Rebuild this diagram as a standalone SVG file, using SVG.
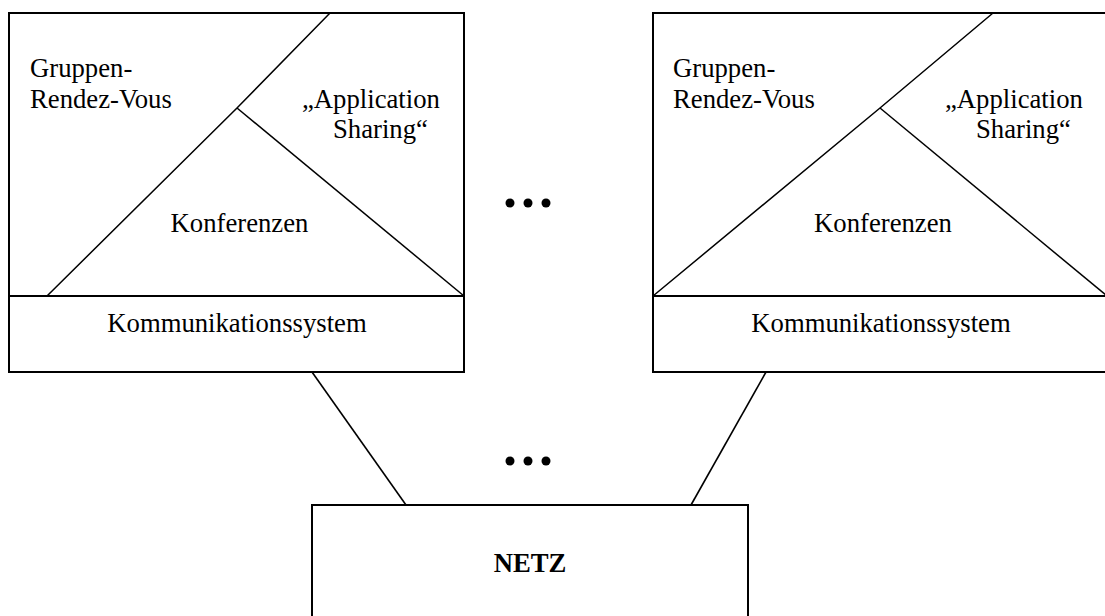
<svg xmlns="http://www.w3.org/2000/svg" width="1105" height="616" viewBox="0 0 1105 616">
  <style>
    .frame { fill: #fff; stroke: #000; stroke-width: 2; }
    .split { fill: none; stroke: #000; stroke-width: 2; }
    .inner { fill: none; stroke: #000; stroke-width: 1.5; }
    .link { fill: none; stroke: #000; stroke-width: 1.6; }
    .lbl { font-family: "Liberation Serif", "Times New Roman", serif; font-size: 26.7px; fill: #000; }
    .mid { text-anchor: middle; }
    .bold { font-weight: bold; }
    .dot { fill: #000; }
  </style>
  <rect width="1105" height="616" fill="#fff"/>

  <!-- connectors from each station to the network -->
  <g id="connectors">
    <line class="link" x1="312" y1="372" x2="406" y2="505"/>
    <line class="link" x1="766" y1="372" x2="691" y2="505"/>
  </g>

  <!-- station 1 -->
  <g id="station-left">
    <rect class="frame" x="9" y="13" width="455" height="359"/>
    <line class="split" x1="9" y1="296" x2="464" y2="296"/>
    <polyline class="inner" points="47,296 237,108 330,13"/>
    <line class="inner" x1="237" y1="108" x2="464" y2="296"/>
    <text class="lbl" x="30" y="77">Gruppen-</text>
    <text class="lbl" x="30" y="108">Rendez-Vous</text>
    <text class="lbl" x="302" y="108">„Application</text>
    <text class="lbl" x="333" y="138">Sharing“</text>
    <text class="lbl mid" x="239.5" y="232">Konferenzen</text>
    <text class="lbl mid" x="237" y="332">Kommunikationssystem</text>
  </g>

  <!-- further stations omitted -->
  <g id="ellipsis-top">
    <circle class="dot" cx="510" cy="203" r="4.5"/>
    <circle class="dot" cx="528" cy="203" r="4.5"/>
    <circle class="dot" cx="546" cy="203" r="4.5"/>
  </g>

  <!-- station n -->
  <g id="station-right">
    <rect class="frame" x="653" y="13" width="460" height="359"/>
    <line class="split" x1="653" y1="296" x2="1110" y2="296"/>
    <polyline class="inner" points="653,296 880,108 993,13"/>
    <line class="inner" x1="880" y1="108" x2="1107" y2="296"/>
    <text class="lbl" x="673" y="77">Gruppen-</text>
    <text class="lbl" x="673" y="108">Rendez-Vous</text>
    <text class="lbl" x="945" y="108">„Application</text>
    <text class="lbl" x="976" y="138">Sharing“</text>
    <text class="lbl mid" x="883" y="232">Konferenzen</text>
    <text class="lbl mid" x="881" y="332">Kommunikationssystem</text>
  </g>

  <!-- further links omitted -->
  <g id="ellipsis-bottom">
    <circle class="dot" cx="510" cy="461" r="4.5"/>
    <circle class="dot" cx="528" cy="461" r="4.5"/>
    <circle class="dot" cx="546" cy="461" r="4.5"/>
  </g>

  <!-- network -->
  <g id="netz">
    <rect class="frame" x="312" y="505" width="436" height="130"/>
    <text class="lbl mid bold" x="530" y="572">NETZ</text>
  </g>
</svg>
